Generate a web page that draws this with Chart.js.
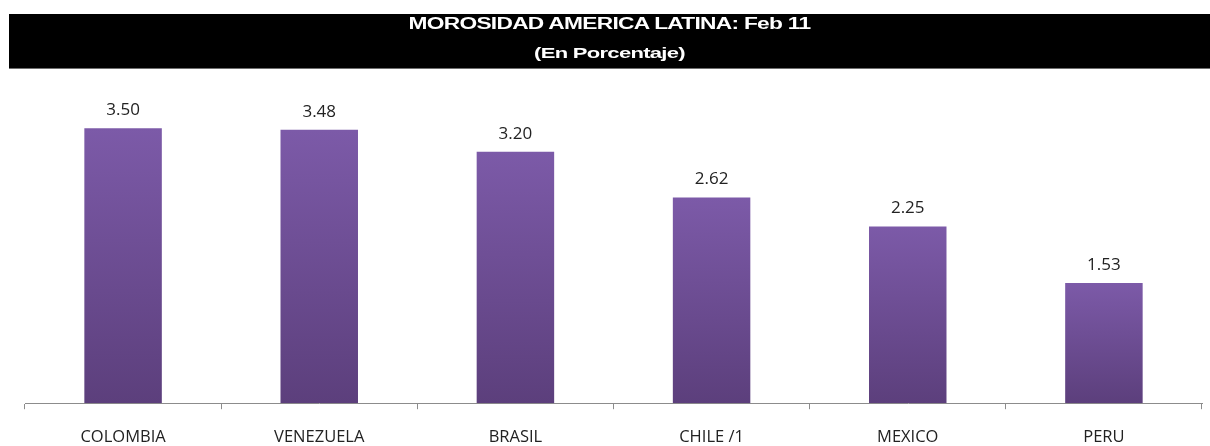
<!DOCTYPE html>
<html>
<head>
<meta charset="utf-8">
<script src="https://cdn.jsdelivr.net/npm/chart.js@4/dist/chart.umd.min.js"></script>
<style>
    html, body { margin: 0; padding: 0; background: #fff; }
    #wrap { position: absolute; left: 0; top: 0; width: 1210px; height: 446px; }
    #titleBar {
        position: absolute; left: 9px; top: 14px; width: 1201px; height: 54px;
        background: #000; border-bottom: 1px solid #6f6f6f;
        font-family: "Liberation Sans", Arial, sans-serif; font-weight: bold; color: #fff;
    }
    .tline {
        position: absolute; left: 0; width: 100%; text-align: center;
        font-size: 16px; line-height: 15px; letter-spacing: -0.5px; transform: scaleX(1.42);
    }
    #t1 { top: 2px; }
    #t2 { top: 31px; font-size: 15.5px; }
</style>
</head>
<body>
<div id="wrap">
    <canvas id="chart" width="1210" height="446"></canvas>
    <div id="titleBar">
        <div class="tline" id="t1">MOROSIDAD AMERICA LATINA: Feb 11</div>
        <div class="tline" id="t2">(En Porcentaje)</div>
    </div>
</div>
<script>
const countries = ['COLOMBIA', 'VENEZUELA', 'BRASIL', 'CHILE /1', 'MEXICO', 'PERU'];
const morosidad = [3.50, 3.48, 3.20, 2.62, 2.25, 1.53];

// per-bar vertical gradient, light at the top, dark at the base
function barGradient(c) {
    const chart = c.chart;
    if (c.type !== 'data' || !chart.chartArea) return '#6c4d94';
    const y = chart.scales.y;
    const top = y.getPixelForValue(c.raw);
    const bottom = y.getPixelForValue(0);
    const g = chart.ctx.createLinearGradient(0, top, 0, bottom);
    g.addColorStop(0, '#7c5aa8');
    g.addColorStop(1, '#5c3f7c');
    return g;
}

// value labels above each bar
const valueLabels = {
    id: 'valueLabels',
    afterDatasetsDraw(chart) {
        const ctx = chart.ctx;
        const meta = chart.getDatasetMeta(0);
        ctx.save();
        ctx.font = '17px "Open Sans", sans-serif';
        ctx.fillStyle = '#222';
        ctx.textAlign = 'center';
        ctx.textBaseline = 'alphabetic';
        meta.data.forEach((bar, i) => {
            ctx.fillText(morosidad[i].toFixed(2), bar.x, bar.y - 13);
        });
        ctx.restore();
    }
};

new Chart(document.getElementById('chart').getContext('2d'), {
    type: 'bar',
    data: {
        labels: countries,
        datasets: [{
            data: morosidad,
            backgroundColor: barGradient,
            borderWidth: 0,
            categoryPercentage: 1,
            barPercentage: 0.395
        }]
    },
    options: {
        responsive: false,
        animation: false,
        layout: {
            padding: { left: 25, right: 8, top: 89, bottom: -19 }
        },
        plugins: {
            legend: { display: false },
            tooltip: { enabled: false }
        },
        scales: {
            x: {
                grid: {
                    display: true,
                    drawOnChartArea: false,
                    drawTicks: true,
                    tickLength: 6,
                    color: '#8c8c8c',
                    offset: true
                },
                border: { display: true, color: '#8c8c8c', width: 1 },
                ticks: {
                    color: '#222',
                    padding: 18,
                    font: { family: '"Open Sans", sans-serif', size: 16.5 }
                }
            },
            y: {
                display: false,
                min: 0,
                max: 4
            }
        }
    },
    plugins: [valueLabels]
});
</script>
</body>
</html>
